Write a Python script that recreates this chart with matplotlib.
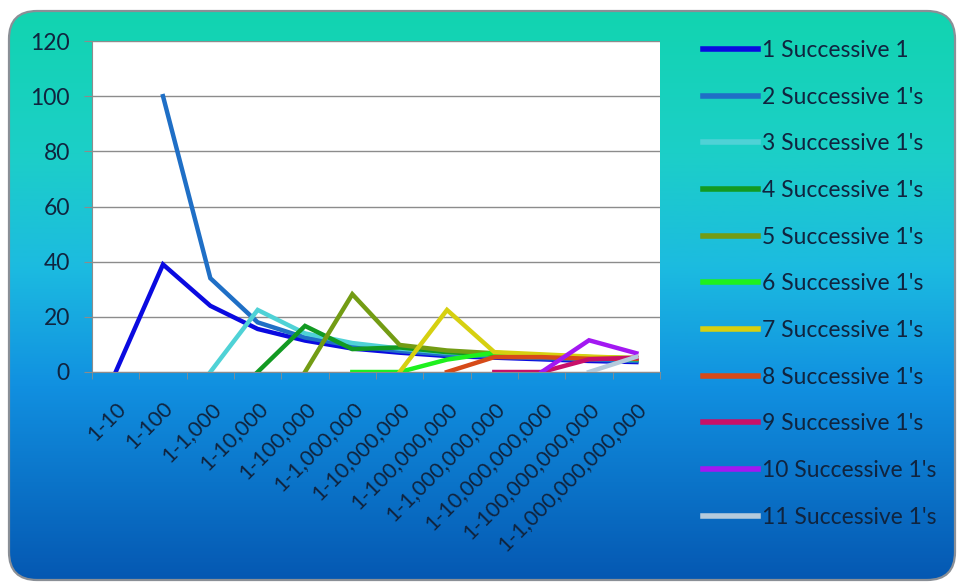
import numpy as np
import matplotlib
matplotlib.use("Agg")
import matplotlib.pyplot as plt
from matplotlib.colors import LinearSegmentedColormap
from matplotlib.patches import FancyBboxPatch

plt.rcParams["font.family"] = ["Lato", "DejaVu Sans"]

nan = np.nan

categories = [
    "1-10", "1-100", "1-1,000", "1-10,000", "1-100,000", "1-1,000,000",
    "1-10,000,000", "1-100,000,000", "1-1,000,000,000", "1-10,000,000,000",
    "1-100,000,000,000", "1-1,000,000,000,000",
]

run1 = [0, 39, 24, 15.6, 11.4, 8.5, 7.0, 5.8, 5.2, 4.6, 4.0, 3.6]
run2 = [nan, 100, 34, 18, 12.5, 9.5, 7.6, 6.3, 5.6, 5.0, 4.5, 4.0]
run3 = [nan, nan, 0, 22.5, 14, 10.5, 8.5, 7.0, 6.2, 5.6, 5.0, 4.5]
run4 = [nan, nan, nan, 0, 16.7, 8.3, 8.9, 7.2, 6.3, 5.6, 5.0, 4.6]
run5 = [nan, nan, nan, nan, 0, 28.2, 9.8, 7.8, 6.8, 6.0, 5.4, 5.0]
run6 = [nan, nan, nan, nan, nan, 0, 0, 4.5, 7.0, 6.0, 5.4, 4.9]
run7 = [nan, nan, nan, nan, nan, nan, 0, 22.5, 7.2, 6.4, 5.6, 5.0]
run8 = [nan, nan, nan, nan, nan, nan, nan, 0, 5.4, 5.4, 4.8, 4.8]
run9 = [nan, nan, nan, nan, nan, nan, nan, nan, 0, 0, 4.6, 5.2]
run10 = [nan, nan, nan, nan, nan, nan, nan, nan, nan, 0, 11.5, 6.8]
run11 = [nan, nan, nan, nan, nan, nan, nan, nan, nan, nan, 0, 5.5]

series = [run1, run2, run3, run4, run5, run6, run7, run8, run9, run10, run11]
labels = ["1 Successive 1"] + [f"{n} Successive 1's" for n in range(2, 12)]
colors = [
    "#0a0ae0", "#1f6fc6", "#4fd2d6", "#129a22", "#739c14", "#1ef01e",
    "#d6d010", "#d64a18", "#c81068", "#a318f2", "#b4cadc",
]

TEXT = "#10243f"

fig = plt.figure(figsize=(9.58, 5.83), dpi=100)

# rounded panel with a teal-to-blue gradient behind everything
bg = fig.add_axes([0, 0, 1, 1], zorder=0)
bg.set_xlim(0, 958)
bg.set_ylim(583, 0)
bg.axis("off")
panel = FancyBboxPatch((9, 11), 946, 569, boxstyle="round,pad=0,rounding_size=28",
                       facecolor="none", edgecolor="#8a8f96", linewidth=1.6, zorder=3)
bg.add_patch(panel)
grad = LinearSegmentedColormap.from_list(
    "panel", [(0.0, "#12d4b0"), (0.25, "#1ccfc8"), (0.45, "#1cbbe0"),
              (0.66, "#1190e0"), (1.0, "#0558b2")])
img = bg.imshow(np.linspace(0, 1, 256).reshape(-1, 1), cmap=grad, aspect="auto",
                extent=(9, 955, 580, 11), zorder=1)
img.set_clip_path(panel)

ax = fig.add_axes([92 / 958, 1 - 372 / 583, (660 - 92) / 958, (372 - 41) / 583], zorder=1)
ax.set_facecolor("white")
x = np.arange(len(categories))
for vals, lab, col in zip(series, labels, colors):
    ax.plot(x, vals, color=col, linewidth=3.2, label=lab, solid_joinstyle="miter")

ax.set_xlim(-0.5, len(categories) - 0.5)
ax.set_ylim(0, 120)
ax.set_yticks(range(0, 121, 20))
ax.yaxis.grid(True, color="#8c8c8c", linewidth=1)
ax.set_axisbelow(True)
for side in ["top", "right"]:
    ax.spines[side].set_visible(False)
ax.spines["left"].set_color("#8c8c8c")
ax.spines["bottom"].set_color("#8c8c8c")
ax.tick_params(axis="y", length=6, color="#8c8c8c", labelsize=16.5, labelcolor=TEXT, pad=10)
ax.set_xticks(x)
ax.set_xticklabels(categories, rotation=45, ha="right", rotation_mode="anchor",
                   fontsize=15.5, color=TEXT)
ax.tick_params(axis="x", length=0, pad=19)
ax.set_xticks(np.arange(-0.5, len(categories), 1), minor=True)
ax.tick_params(axis="x", which="minor", length=5, color="#8c8c8c")

leg = fig.legend(loc="upper left", bbox_to_anchor=(703 / 958, 1 - 40 / 583),
                 frameon=False, fontsize=16.5, handlelength=2.4, handletextpad=0.17,
                 labelspacing=1.12, borderaxespad=0, borderpad=0)
for t in leg.get_texts():
    t.set_color(TEXT)
for h in leg.get_lines():
    h.set_linewidth(4)

fig.savefig("out.png", dpi=100)
